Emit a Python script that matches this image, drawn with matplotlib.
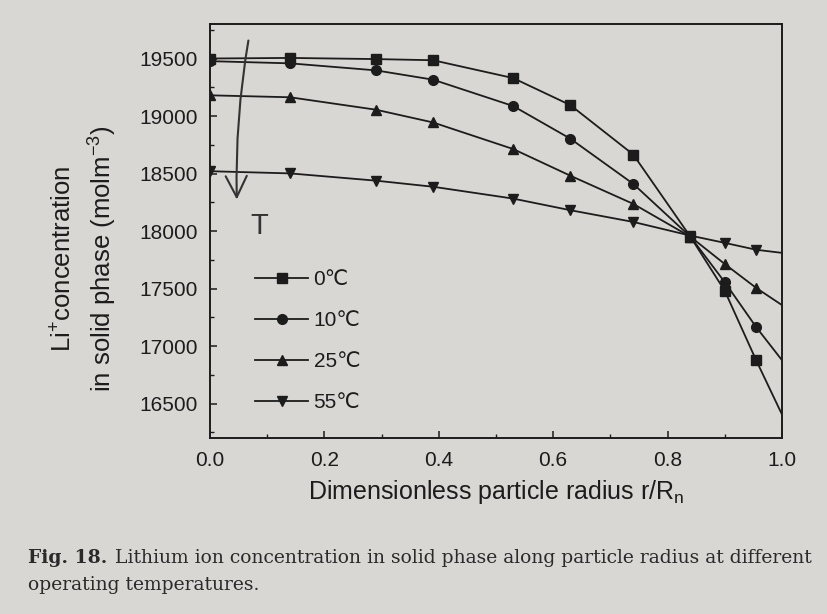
import numpy as np
import matplotlib
matplotlib.use('Agg')
import matplotlib.pyplot as plt
from matplotlib.ticker import MultipleLocator, FormatStrFormatter

plt.rcParams['font.family'] = ['Liberation Sans', 'DejaVu Sans']

# dimensionless radius of the mesh points
r = [0.0, 0.14, 0.29, 0.39, 0.53, 0.63, 0.74, 0.84, 0.90, 0.955, 1.0]
# Li+ concentration in solid phase (mol m^-3)
c_0 = [19500, 19505, 19495, 19485, 19330, 19095, 18665, 17950, 17480, 16875, 16405]
c_10 = [19477, 19458, 19397, 19316, 19087, 18803, 18410, 17950, 17555, 17164, 16877]
c_25 = [19180, 19163, 19055, 18944, 18713, 18481, 18236, 17950, 17713, 17505, 17356]
c_55 = [18520, 18501, 18438, 18385, 18282, 18181, 18079, 17960, 17897, 17837, 17810]
labels = ['0\u2103', '10\u2103', '25\u2103', '55\u2103']
markers = ['s', 'o', '^', 'v']
msizes = [6.5, 7, 7.5, 7.5]

paper = '#d9d7d4'
ink = '#1c1c1c'

fig = plt.figure(figsize=(8.28, 6.14), dpi=100, facecolor=paper)
ax = fig.add_axes([0.2536, 0.2866, 0.6908, 0.6743], facecolor=paper)

for c, lab, m, ms in zip([c_0, c_10, c_25, c_55], labels, markers, msizes):
    ax.plot(r, c, color=ink, lw=1.3, marker=m, ms=ms, mfc=ink, mec=ink,
            markevery=list(range(len(r) - 1)), label=lab)

ax.set_xlim(0, 1.0)
ax.set_ylim(16200, 19800)
ax.xaxis.set_major_locator(MultipleLocator(0.2))
ax.xaxis.set_minor_locator(MultipleLocator(0.1))
ax.xaxis.set_major_formatter(FormatStrFormatter('%.1f'))
ax.yaxis.set_major_locator(MultipleLocator(500))
ax.yaxis.set_minor_locator(MultipleLocator(250))
ax.tick_params(which='both', direction='in', top=False, right=False, colors=ink)
ax.tick_params(which='major', length=5, width=1.1, labelsize=15, pad=9)
ax.tick_params(which='minor', length=3, width=1.0)
for s in ax.spines.values():
    s.set_linewidth(1.4)
    s.set_color(ink)

ax.set_xlabel('Dimensionless particle radius r/R$_\\mathregular{n}$', fontsize=18, color=ink, labelpad=6)
fig.text(0.076, 0.578, 'Li$^\\mathregular{+}$concentration', rotation=90, ha='center', va='center',
         fontsize=18.5, color=ink)
fig.text(0.123, 0.578, 'in solid phase (molm$^\\mathregular{-3}$)', rotation=90, ha='center', va='center',
         fontsize=18.5, color=ink)

leg = ax.legend(loc='upper left', bbox_to_anchor=(0.079, 0.405), frameon=False, fontsize=15,
                handlelength=2.55, handletextpad=0.25, labelspacing=1.05, borderpad=0, borderaxespad=0)
for t in leg.get_texts():
    t.set_color(ink)

# hand-drawn arrow and "T" on the page
ax.annotate('', xy=(0.047, 18250), xytext=(0.068, 19680),
            arrowprops=dict(arrowstyle='->', lw=1.5, color='#333333', mutation_scale=38,
                            connectionstyle='arc3,rad=0.05'))
ax.text(0.086, 18040, 'T', fontsize=21, color='#333333', ha='center', va='center')

# caption under the figure
cap1 = fig.text(28 / 828, 1 - 563 / 614, 'Fig. 18.', fontsize=13.5, family='DejaVu Serif',
                weight='bold', color='#2a2a2a', va='baseline')
fig.canvas.draw()
bb = cap1.get_window_extent()
fig.text((bb.x1 + 8) / 828, 1 - 563 / 614,
         'Lithium ion concentration in solid phase along particle radius at different',
         fontsize=13.5, family='DejaVu Serif', color='#2a2a2a', va='baseline')
fig.text(28 / 828, 1 - 590 / 614, 'operating temperatures.', fontsize=13.5,
         family='DejaVu Serif', color='#2a2a2a', va='baseline')

fig.savefig('out.png', dpi=100, facecolor=paper)
